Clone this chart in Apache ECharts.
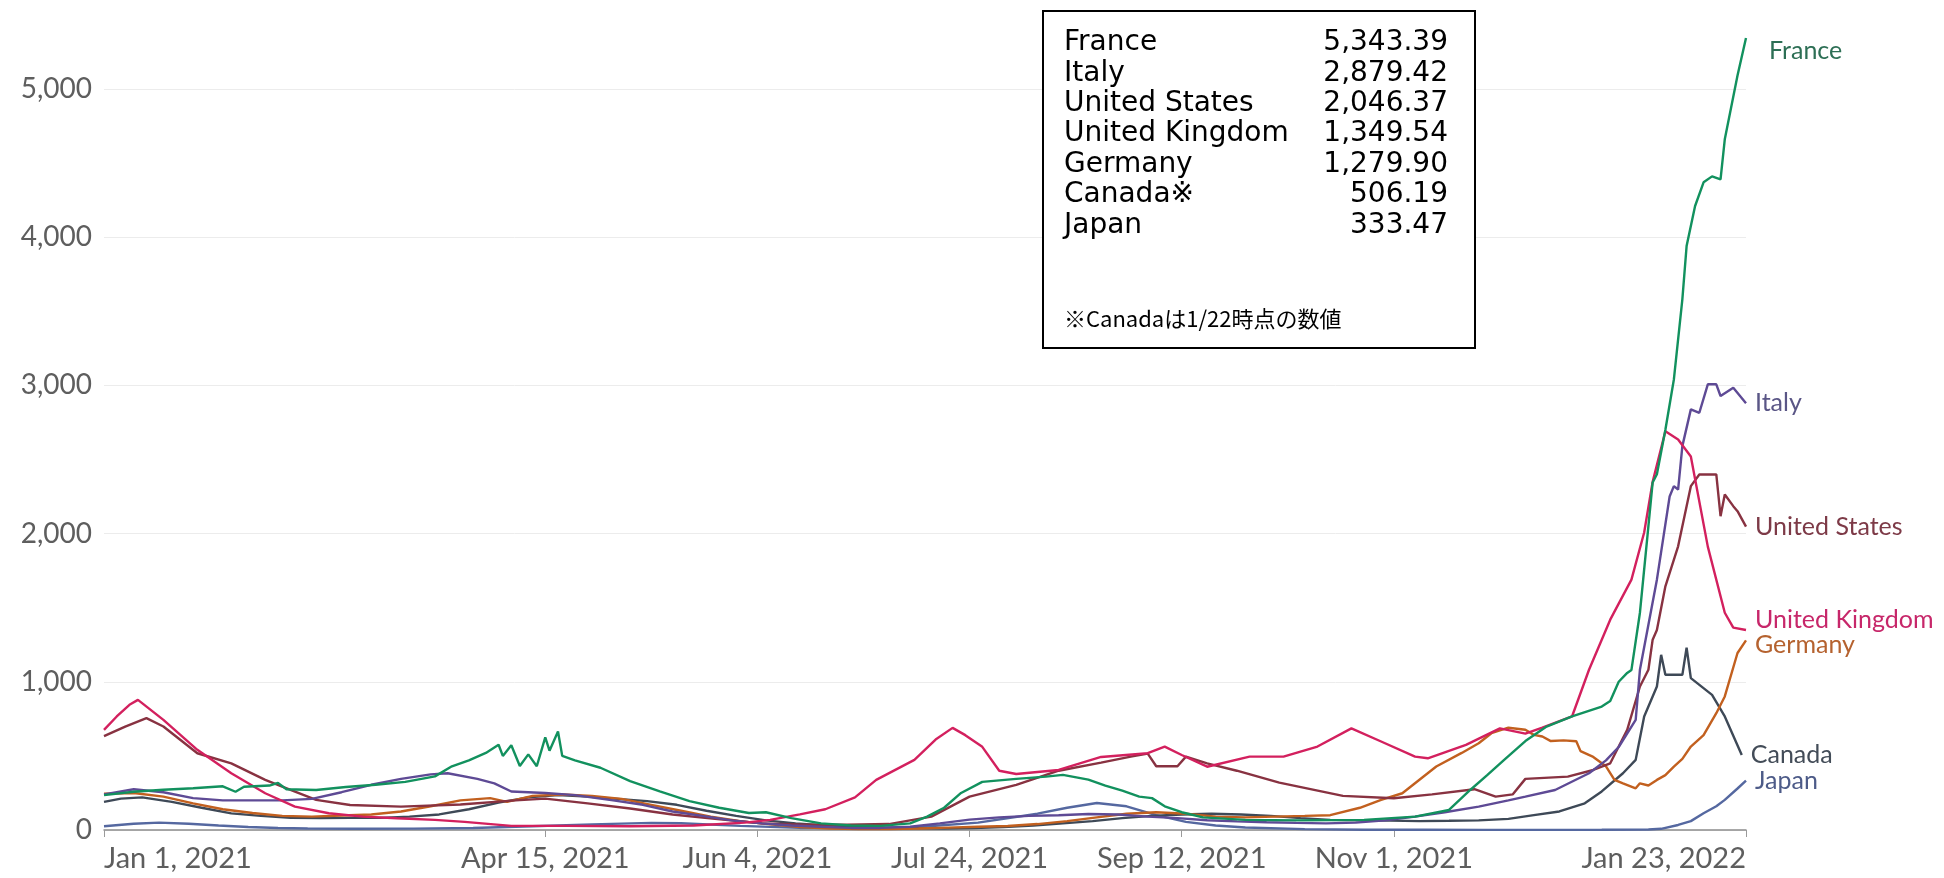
<!DOCTYPE html>
<html>
<head>
<meta charset="utf-8">
<script src="https://cdn.jsdelivr.net/npm/echarts@6/dist/echarts.min.js"></script>
<style>
html,body{margin:0;padding:0;background:#fff;}
#chart{width:1944px;height:878px;}
</style>
</head>
<body>
<div id="chart"></div>
<script>
// ---------- DATA ----------
const countryNames = ['France','Italy','United States','United Kingdom','Germany','Canada','Japan'];

const franceData = [['2021-01-01',235],['2021-01-08',258],['2021-01-15',272],['2021-01-22',282],['2021-01-29',295],['2021-02-01',258],['2021-02-03',292],['2021-02-09',300],['2021-02-11',318],['2021-02-13',275],['2021-02-20',270],['2021-02-27',290],['2021-03-06',305],['2021-03-13',325],['2021-03-20',362],['2021-03-24',430],['2021-03-28',470],['2021-04-01',520],['2021-04-04',575],['2021-04-05',500],['2021-04-07',572],['2021-04-09',432],['2021-04-11',510],['2021-04-13',430],['2021-04-15',625],['2021-04-16',535],['2021-04-18',665],['2021-04-19',500],['2021-04-22',470],['2021-04-28',420],['2021-05-05',330],['2021-05-12',260],['2021-05-19',195],['2021-05-26',150],['2021-06-02',115],['2021-06-06',120],['2021-06-12',80],['2021-06-19',45],['2021-06-26',30],['2021-07-03',28],['2021-07-10',45],['2021-07-14',90],['2021-07-18',150],['2021-07-22',250],['2021-07-27',325],['2021-08-04',345],['2021-08-11',360],['2021-08-15',372],['2021-08-21',340],['2021-08-25',300],['2021-08-29',265],['2021-09-02',225],['2021-09-05',215],['2021-09-08',160],['2021-09-12',120],['2021-09-17',85],['2021-09-27',68],['2021-10-10',65],['2021-10-25',68],['2021-11-06',90],['2021-11-14',135],['2021-11-19',270],['2021-11-23',370],['2021-11-27',473],['2021-12-02',600],['2021-12-07',698],['2021-12-13',766],['2021-12-20',833],['2021-12-22',870],['2021-12-24',1000],['2021-12-26',1060],['2021-12-27',1080],['2021-12-29',1466],['2021-12-31',2050],['2022-01-01',2345],['2022-01-02',2400],['2022-01-04',2700],['2022-01-06',3040],['2022-01-08',3580],['2022-01-09',3940],['2022-01-11',4210],['2022-01-13',4370],['2022-01-15',4410],['2022-01-17',4390],['2022-01-18',4660],['2022-01-21',5090],['2022-01-23',5343.39]];

const italyData = [['2021-01-01',240],['2021-01-08',275],['2021-01-15',255],['2021-01-22',215],['2021-01-29',200],['2021-02-05',200],['2021-02-12',200],['2021-02-19',210],['2021-02-26',255],['2021-03-05',305],['2021-03-12',345],['2021-03-19',375],['2021-03-23',383],['2021-03-30',345],['2021-04-03',315],['2021-04-07',260],['2021-04-15',250],['2021-04-22',235],['2021-05-01',200],['2021-05-08',170],['2021-05-15',125],['2021-05-22',95],['2021-05-29',65],['2021-06-05',45],['2021-06-12',30],['2021-06-19',22],['2021-06-26',14],['2021-07-03',14],['2021-07-10',22],['2021-07-17',45],['2021-07-24',70],['2021-07-31',85],['2021-08-07',95],['2021-08-14',100],['2021-08-21',108],['2021-08-28',105],['2021-09-04',90],['2021-09-11',80],['2021-09-18',66],['2021-09-25',58],['2021-10-02',52],['2021-10-09',48],['2021-10-16',45],['2021-10-23',50],['2021-10-30',65],['2021-11-06',90],['2021-11-13',120],['2021-11-21',158],['2021-11-28',200],['2021-12-02',225],['2021-12-09',270],['2021-12-17',383],['2021-12-21',470],['2021-12-24',560],['2021-12-28',743],['2021-12-29',1081],['2022-01-02',1689],['2022-01-05',2250],['2022-01-06',2320],['2022-01-07',2297],['2022-01-08',2590],['2022-01-10',2838],['2022-01-12',2815],['2022-01-14',3007],['2022-01-16',3007],['2022-01-17',2928],['2022-01-20',2984],['2022-01-23',2879.42]];

const usData = [['2021-01-01',633],['2021-01-06',698],['2021-01-11',755],['2021-01-15',698],['2021-01-23',518],['2021-01-31',450],['2021-02-08',338],['2021-02-12',293],['2021-02-20',203],['2021-02-28',169],['2021-03-12',158],['2021-03-26',172],['2021-04-08',200],['2021-04-15',212],['2021-04-25',180],['2021-05-05',145],['2021-05-15',105],['2021-05-25',75],['2021-06-05',45],['2021-06-15',35],['2021-06-25',35],['2021-07-05',40],['2021-07-15',90],['2021-07-24',225],['2021-08-04',304],['2021-08-14',400],['2021-08-24',455],['2021-08-31',495],['2021-09-04',515],['2021-09-06',430],['2021-09-11',430],['2021-09-13',495],['2021-09-18',450],['2021-09-25',400],['2021-10-05',320],['2021-10-20',230],['2021-11-01',214],['2021-11-10',240],['2021-11-20',275],['2021-11-25',225],['2021-11-29',240],['2021-12-02',345],['2021-12-12',360],['2021-12-18',405],['2021-12-22',450],['2021-12-26',676],['2021-12-29',968],['2021-12-31',1081],['2022-01-01',1284],['2022-01-02',1350],['2022-01-04',1644],['2022-01-07',1914],['2022-01-10',2320],['2022-01-12',2399],['2022-01-16',2399],['2022-01-17',2117],['2022-01-18',2264],['2022-01-20',2185],['2022-01-21',2151],['2022-01-23',2046.37]];

const ukData = [['2021-01-01',676],['2021-01-04',766],['2021-01-07',845],['2021-01-09',878],['2021-01-15',743],['2021-01-23',541],['2021-01-31',383],['2021-02-08',248],['2021-02-15',158],['2021-02-23',113],['2021-03-03',90],['2021-03-11',79],['2021-03-20',68],['2021-03-27',55],['2021-04-07',28],['2021-04-20',28],['2021-05-05',25],['2021-05-20',30],['2021-06-01',50],['2021-06-07',68],['2021-06-14',105],['2021-06-20',140],['2021-06-27',220],['2021-07-02',338],['2021-07-11',473],['2021-07-16',610],['2021-07-20',689],['2021-07-23',640],['2021-07-27',561],['2021-07-31',400],['2021-08-04',378],['2021-08-14',405],['2021-08-24',493],['2021-09-04',518],['2021-09-08',563],['2021-09-12',506],['2021-09-18',427],['2021-09-28',495],['2021-10-06',495],['2021-10-14',563],['2021-10-22',686],['2021-10-29',597],['2021-11-06',495],['2021-11-09',484],['2021-11-18',574],['2021-11-26',686],['2021-12-02',650],['2021-12-06',690],['2021-12-13',766],['2021-12-17',1081],['2021-12-22',1419],['2021-12-27',1689],['2021-12-30',2007],['2022-01-01',2350],['2022-01-04',2690],['2022-01-07',2635],['2022-01-10',2520],['2022-01-14',1912],['2022-01-18',1466],['2022-01-20',1365],['2022-01-23',1349.54]];

const germanyData = [['2021-01-01',245],['2021-01-08',250],['2021-01-15',225],['2021-01-22',180],['2021-01-29',140],['2021-02-05',115],['2021-02-12',95],['2021-02-19',90],['2021-02-26',98],['2021-03-05',105],['2021-03-12',125],['2021-03-19',160],['2021-03-26',200],['2021-04-02',215],['2021-04-06',190],['2021-04-12',230],['2021-04-19',240],['2021-04-26',230],['2021-05-03',210],['2021-05-10',170],['2021-05-17',130],['2021-05-24',90],['2021-05-31',60],['2021-06-07',38],['2021-06-14',20],['2021-06-21',10],['2021-06-28',7],['2021-07-05',7],['2021-07-12',10],['2021-07-19',16],['2021-07-26',22],['2021-08-02',27],['2021-08-09',40],['2021-08-16',60],['2021-08-23',85],['2021-08-30',110],['2021-09-06',120],['2021-09-13',110],['2021-09-20',90],['2021-09-27',85],['2021-10-04',90],['2021-10-11',95],['2021-10-17',100],['2021-10-24',150],['2021-10-29',203],['2021-11-03',248],['2021-11-11',428],['2021-11-17',520],['2021-11-21',585],['2021-11-24',653],['2021-11-28',690],['2021-12-02',676],['2021-12-04',642],['2021-12-06',631],['2021-12-08',600],['2021-12-11',605],['2021-12-14',599],['2021-12-15',532],['2021-12-18',493],['2021-12-21',430],['2021-12-23',338],['2021-12-25',315],['2021-12-28',281],['2021-12-29',315],['2021-12-31',300],['2022-01-02',338],['2022-01-04',370],['2022-01-06',428],['2022-01-08',480],['2022-01-10',563],['2022-01-13',640],['2022-01-16',788],['2022-01-18',901],['2022-01-21',1194],['2022-01-23',1279.9]];

const canadaData = [['2021-01-01',190],['2021-01-05',212],['2021-01-10',220],['2021-01-17',190],['2021-01-24',150],['2021-01-31',112],['2021-02-07',95],['2021-02-14',82],['2021-02-21',80],['2021-02-28',82],['2021-03-07',82],['2021-03-14',90],['2021-03-21',105],['2021-03-28',140],['2021-04-04',185],['2021-04-11',220],['2021-04-18',235],['2021-04-25',225],['2021-05-02',210],['2021-05-09',195],['2021-05-16',170],['2021-05-23',130],['2021-05-30',95],['2021-06-06',65],['2021-06-13',45],['2021-06-20',30],['2021-06-27',20],['2021-07-04',15],['2021-07-11',11],['2021-07-18',10],['2021-07-25',13],['2021-08-01',20],['2021-08-08',30],['2021-08-15',45],['2021-08-22',60],['2021-08-29',80],['2021-09-05',95],['2021-09-12',105],['2021-09-19',110],['2021-09-26',105],['2021-10-03',95],['2021-10-10',80],['2021-10-17',68],['2021-10-24',65],['2021-10-31',63],['2021-11-07',60],['2021-11-14',62],['2021-11-21',65],['2021-11-28',75],['2021-12-04',100],['2021-12-10',125],['2021-12-16',180],['2021-12-20',260],['2021-12-25',383],['2021-12-28',473],['2021-12-30',766],['2022-01-02',968],['2022-01-03',1182],['2022-01-04',1047],['2022-01-08',1047],['2022-01-09',1230],['2022-01-10',1025],['2022-01-15',912],['2022-01-18',766],['2022-01-22',506.19]];

const japanData = [['2021-01-01',25],['2021-01-08',42],['2021-01-14',50],['2021-01-21',42],['2021-01-28',30],['2021-02-04',20],['2021-02-11',13],['2021-02-18',10],['2021-03-01',8],['2021-03-15',9],['2021-03-29',13],['2021-04-12',25],['2021-04-26',38],['2021-05-10',48],['2021-05-17',46],['2021-05-31',28],['2021-06-14',14],['2021-06-28',13],['2021-07-12',20],['2021-07-26',50],['2021-08-09',110],['2021-08-16',150],['2021-08-23',182],['2021-08-30',160],['2021-09-06',100],['2021-09-13',55],['2021-09-20',30],['2021-09-27',17],['2021-10-11',6],['2021-10-25',2],['2021-11-08',1.5],['2021-11-22',1],['2021-12-06',1],['2021-12-20',1.5],['2021-12-31',3],['2022-01-03',8],['2022-01-07',34],['2022-01-10',60],['2022-01-13',113],['2022-01-16',160],['2022-01-18',203],['2022-01-21',280],['2022-01-23',333.47]];

const xTickDates = ['2021-01-01','2021-04-15','2021-06-04','2021-07-24','2021-09-12','2021-11-01','2022-01-23'];
const yTickValues = [0,1000,2000,3000,4000,5000];

const boxNames = ['France','Italy','United States','United Kingdom','Germany','Canada※','Japan'];
const boxValues = ['5,343.39','2,879.42','2,046.37','1,349.54','1,279.90','506.19','333.47'];
const boxNote = '※Canadaは1/22時点の数値';

// ---------- STYLE ----------
const seriesData = [franceData, italyData, usData, ukData, germanyData, canadaData, japanData];
const colors = ['#12915e','#5e4a95','#883241','#d3205e','#c2601f','#3e4957','#5568a0'];
const labelColors = ['#2d6f55','#5a5686','#7d3a47','#c7276a','#b5622f','#434c58','#4d5b88'];
const labelOffsets = [[14,13],[0,0],[0,0],[0,-10],[0,0],[0,0],[0,0]];
const monthNames = ['Jan','Feb','Mar','Apr','May','Jun','Jul','Aug','Sep','Oct','Nov','Dec'];

function parseDate(s){const p=s.split('-').map(Number);return Date.UTC(p[0],p[1]-1,p[2]);}
function fmtDate(v){const d=new Date(v);return monthNames[d.getUTCMonth()]+' '+d.getUTCDate()+', '+d.getUTCFullYear();}

const chart = echarts.init(document.getElementById('chart'), null, {renderer:'canvas'});

const drawOrder = [6,5,4,2,1,3,0];
const series = drawOrder.map(i => ({
  name: countryNames[i],
  type: 'line',
  data: seriesData[i].map(p => [parseDate(p[0]), p[1]]),
  showSymbol: false,
  symbol: 'none',
  smooth: false,
  lineStyle: {color: colors[i], width: 2.4},
  itemStyle: {color: colors[i]},
  endLabel: {
    show: true,
    formatter: countryNames[i],
    color: labelColors[i],
    fontFamily: 'Lato',
    fontSize: 25,
    distance: 9,
    offset: labelOffsets[i]
  },
  labelLayout: {moveOverlap: 'shiftY'},
  emphasis: {disabled: true},
  z: 3
}));

const boxLeft = 1042, boxTop = 10, boxW = 432, boxH = 337;
const rowY = [43, 74, 104, 134, 165, 195, 226];
const graphics = [{
  type: 'rect', left: boxLeft, top: boxTop, z: 10,
  shape: {width: boxW, height: boxH},
  style: {fill: '#ffffff', stroke: '#000000', lineWidth: 2}
}];
boxNames.forEach((n, k) => {
  graphics.push({type:'text', x: 1064, y: rowY[k], z: 11,
    style:{text: n, fill:'#000', font:'28px "DejaVu Sans"', verticalAlign:'middle'}});
  graphics.push({type:'text', x: 1448, y: rowY[k], z: 11,
    style:{text: boxValues[k], fill:'#000', font:'28px "DejaVu Sans"', align:'right', verticalAlign:'middle'}});
});
graphics.push({type:'text', x: 1064, y: 319, z: 11,
  style:{text: boxNote, fill:'#000', font:'22px "Noto Sans CJK JP"', verticalAlign:'middle'}});

const xTickVals = xTickDates.map(parseDate);

const option = {
  animation: false,
  backgroundColor: '#ffffff',
  grid: {left: 104, right: 198, top: 0, bottom: 48, containLabel: false},
  xAxis: {
    type: 'value',
    min: xTickVals[0],
    max: xTickVals[xTickVals.length - 1],
    axisLine: {show: true, onZero: false, lineStyle: {color: '#8c8c8c', width: 1.5}},
    axisTick: {show: true, customValues: xTickVals, length: 7, lineStyle: {color: '#9a9a9a'}},
    axisLabel: {
      customValues: xTickVals,
      formatter: v => fmtDate(v),
      color: '#5e5e5e', fontFamily: 'Lato', fontSize: 29, margin: 14,
      alignMinLabel: 'left', alignMaxLabel: 'right',
      showMinLabel: true, showMaxLabel: true
    },
    splitLine: {show: false}
  },
  yAxis: {
    type: 'value', min: 0, max: 5600, interval: 1000,
    axisLine: {show: false}, axisTick: {show: false},
    axisLabel: {
      formatter: v => yTickValues.indexOf(v) >= 0 ? v.toLocaleString('en-US') : '',
      color: '#5e5e5e', fontFamily: 'Lato', fontSize: 28, margin: 12, showMaxLabel: false
    },
    splitLine: {show: true, showMaxLine: false, lineStyle: {color: '#ececec', width: 1}}
  },
  series: series,
  graphic: graphics
};
chart.setOption(option);
</script>
</body>
</html>
